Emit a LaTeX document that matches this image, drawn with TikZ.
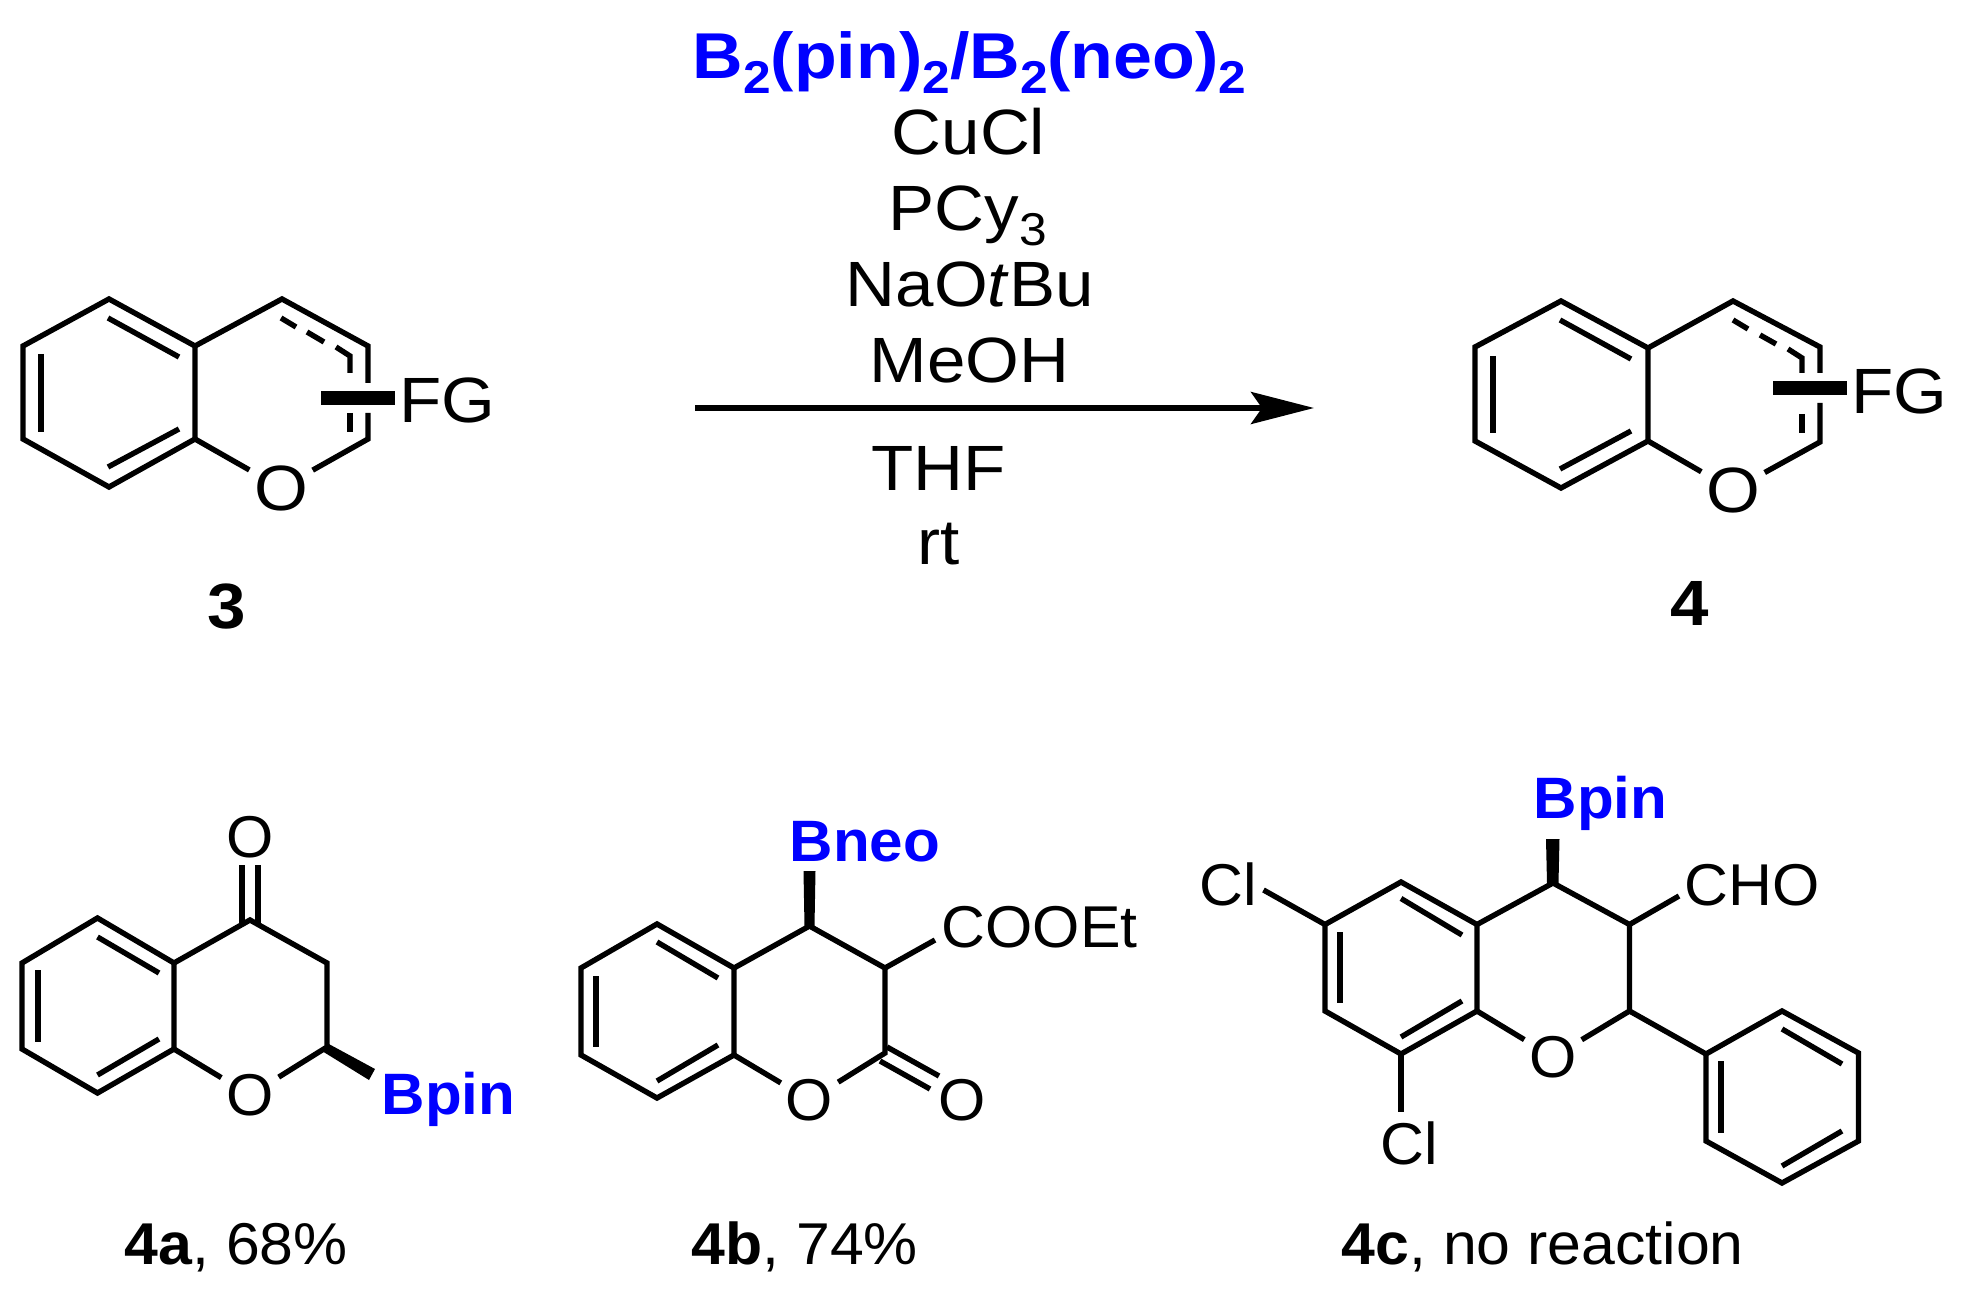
\documentclass[tikz,border=0pt]{standalone}
\usepackage{fontspec}
\setmainfont{Liberation Sans}
\newfontfamily\topfam[FakeStretch=1.08]{Liberation Sans}
\newfontfamily\lowfam[FakeStretch=1.03]{Liberation Sans}
\usetikzlibrary{arrows.meta,positioning}
\newcommand{\subs}[1]{\raisebox{-7.5pt}{\fontsize{23}{23}\selectfont #1}}

\begin{document}
\begin{tikzpicture}[x=0.5pt, y=-0.5pt, line width=2.7pt]
    \tikzstyle{toptext} = [inner sep=0pt, anchor=base west, font=\topfam\fontsize{32}{34}\selectfont]
    \tikzstyle{lowtext} = [inner sep=0pt, anchor=base west, font=\lowfam\fontsize{29.5}{32}\selectfont]
    \tikzstyle{topatom} = [inner sep=0pt, minimum width=29pt, minimum height=24pt, font=\topfam\fontsize{32}{34}\selectfont]
    \tikzstyle{lowatom} = [inner sep=0pt, minimum width=26pt, minimum height=24pt, font=\lowfam\fontsize{29.5}{32}\selectfont]
    \tikzstyle{boron} = [text=blue, font=\lowfam\bfseries\fontsize{29.2}{32}\selectfont]
    \tikzstyle{arrow} = [-{Stealth[length=31.5pt, width=16pt, inset=5.5pt]}]
    \useasboundingbox (0,0) rectangle (1966,1294);

    % reagents
    \node [toptext, text=blue, font=\topfam\bfseries\fontsize{32.4}{34}\selectfont] (boryl) at (690,79) {B\subs{2}(pin)\subs{2}/B\subs{2}(neo)\subs{2}};
    \node [toptext] (cucl) at (889,155) {CuCl};
    \node [toptext] (pcy) at (886,231) {PCy\subs{3}};
    \node [toptext] (naot) at (843,307) {NaO\textit{t}Bu};
    \node [toptext] (meoh) at (867,383) {MeOH};
    \node [toptext] (thf) at (869,491) {THF};
    \node [toptext] (rt) at (915,565) {rt};
    \coordinate (rxnstart) at (695,408);
    \coordinate (rxnend) at (1314,408);
    \draw [arrow] (rxnstart) -- (rxnend);

    % substrate 3
    \coordinate (s1) at (109,299);
    \coordinate (s2) at (195,346);
    \coordinate (s3) at (195,439);
    \coordinate (s4) at (109,487);
    \coordinate (s5) at (23,439);
    \coordinate (s6) at (23,346);
    \coordinate (s7) at (282,299);
    \coordinate (s8) at (368,346);
    \coordinate (s9) at (368,383);
    \coordinate (s10) at (368,413);
    \coordinate (s11) at (368,439);
    \node [topatom] (so) at (281,488) {O};
    \draw (s1) -- (s2) -- (s3) -- (s4) -- (s5) -- (s6) -- cycle;
    \draw (s2) -- (s7) -- (s8) -- (s9);
    \draw (s3) -- (so) -- (s11) -- (s10);
    \draw (108,318) -- (179,357);
    \draw (41,354) -- (41,432);
    \draw (108,467) -- (179,429);
    \draw (281,318) -- (296,327);
    \draw (307,332) -- (324,342);
    \draw (336,347) -- (350,356) -- (350,373);
    \draw (350,413) -- (350,432);
    \fill (321,391) rectangle (395,405);
    \node [toptext] (sfg) at (397,423) {FG};
    \node [toptext, font=\topfam\bfseries\fontsize{32}{34}\selectfont] (slabel) at (205,628) {3};

    % product 4
    \coordinate (p1) at (1561,301);
    \coordinate (p2) at (1648,348);
    \coordinate (p3) at (1648,441);
    \coordinate (p4) at (1561,488);
    \coordinate (p5) at (1475,441);
    \coordinate (p6) at (1475,347);
    \coordinate (p7) at (1733,301);
    \coordinate (p8) at (1820,347);
    \coordinate (p9) at (1820,373);
    \coordinate (p10) at (1820,403);
    \coordinate (p11) at (1820,442);
    \node [topatom] (po) at (1733,490) {O};
    \draw (p1) -- (p2) -- (p3) -- (p4) -- (p5) -- (p6) -- cycle;
    \draw (p2) -- (p7) -- (p8) -- (p9);
    \draw (p3) -- (po) -- (p11) -- (p10);
    \draw (1560,320) -- (1631,359);
    \draw (1493,356) -- (1493,433);
    \draw (1560,469) -- (1631,431);
    \draw (1733,320) -- (1748,329);
    \draw (1760,335) -- (1776,344);
    \draw (1788,349) -- (1802,358) -- (1802,373);
    \draw (1802,414) -- (1802,433);
    \fill (1773,381) rectangle (1847,395);
    \node [toptext] (pfg) at (1849,414) {FG};
    \node [toptext, font=\topfam\bfseries\fontsize{32}{34}\selectfont] (plabel) at (1668,625) {4};

    % 4a
    \coordinate (a1) at (97.5,918);
    \coordinate (a2) at (174,963);
    \coordinate (a3) at (174,1049);
    \coordinate (a4) at (97.5,1093);
    \coordinate (a5) at (22,1049);
    \coordinate (a6) at (22,963);
    \coordinate (a7) at (250,920);
    \coordinate (a8) at (327,963);
    \coordinate (a9) at (327,1047);
    \coordinate (a10) at (375,1069);
    \coordinate (a11) at (369,1080);
    \coordinate (a12) at (242,923);
    \coordinate (a13) at (242,865);
    \coordinate (a14) at (258,923);
    \coordinate (a15) at (258,865);
    \coordinate (a16) at (327,1043);
    \coordinate (a17) at (322,1051);
    \node [lowatom] (ao) at (250,1095) {O};
    \node [lowatom] (aoxo) at (250,837) {O};
    \draw (a1) -- (a2) -- (a3) -- (a4) -- (a5) -- (a6) -- cycle;
    \draw (a2) -- (a7) -- (a8) -- (a9) -- (ao) -- (a3);
    \draw (a12) -- (a13);
    \draw (a14) -- (a15);
    \draw (97.5,937) -- (159,973);
    \draw (38,970) -- (38,1042);
    \draw (97.5,1075) -- (159,1039);
    \fill (a16) -- (a10) -- (a11) -- (a17) -- cycle;
    \node [lowtext, boron] (abpin) at (379,1114) {Bpin};
    \node [lowtext] (alabel) at (122,1264) {\textbf{4a}, 68\%};

    % 4b
    \coordinate (b1) at (657,924);
    \coordinate (b2) at (734,968);
    \coordinate (b3) at (734,1055);
    \coordinate (b4) at (657,1098);
    \coordinate (b5) at (581,1055);
    \coordinate (b6) at (581,968);
    \coordinate (b7) at (809.5,926);
    \coordinate (b8) at (885,968);
    \coordinate (b9) at (885,1053);
    \coordinate (b10) at (803.5,871);
    \coordinate (b11) at (815.5,871);
    \coordinate (b12) at (935,940);
    \coordinate (b13) at (887,1047);
    \coordinate (b14) at (939,1076);
    \coordinate (b15) at (880,1061);
    \coordinate (b16) at (930,1089);
    \coordinate (b17) at (814.5,926);
    \coordinate (b18) at (804.5,926);
    \node [lowatom] (bo) at (809.5,1100) {O};
    \node [lowatom] (boxo) at (962,1100) {O};
    \draw (b1) -- (b2) -- (b3) -- (b4) -- (b5) -- (b6) -- cycle;
    \draw (b2) -- (b7) -- (b8) -- (b9) -- (bo) -- (b3);
    \draw (b8) -- (b12);
    \draw (b13) -- (b14);
    \draw (b15) -- (b16);
    \draw (657,942) -- (718,978);
    \draw (596,976) -- (596,1047);
    \draw (657,1081) -- (718,1045);
    \fill (b10) -- (b11) -- (b17) -- (b18) -- cycle;
    \node [lowtext, boron] (bbneo) at (787,861) {Bneo};
    \node [lowtext] (bcooet) at (939,947) {COOEt};
    \node [lowtext] (blabel) at (689,1264) {\textbf{4b}, 74\%};

    % 4c
    \coordinate (c1) at (1401,882);
    \coordinate (c2) at (1477,924.5);
    \coordinate (c3) at (1477,1011);
    \coordinate (c4) at (1401,1054);
    \coordinate (c5) at (1325,1011);
    \coordinate (c6) at (1325,924.5);
    \coordinate (c7) at (1553,883);
    \coordinate (c8) at (1629.5,924.5);
    \coordinate (c9) at (1629.5,1011);
    \coordinate (c10) at (1546,839);
    \coordinate (c11) at (1559.5,839);
    \coordinate (c12) at (1679,896);
    \coordinate (c13) at (1263.5,890);
    \coordinate (c14) at (1401,1112);
    \coordinate (c15) at (1558.5,883);
    \coordinate (c16) at (1547,883);
    \coordinate (ph1) at (1706,1054);
    \coordinate (ph2) at (1782,1011);
    \coordinate (ph3) at (1858.5,1053);
    \coordinate (ph4) at (1858.5,1141);
    \coordinate (ph5) at (1782,1183);
    \coordinate (ph6) at (1706,1141);
    \node [lowatom] (co) at (1553,1057) {O};
    \draw (c1) -- (c2) -- (c3) -- (c4) -- (c5) -- (c6) -- cycle;
    \draw (c2) -- (c7) -- (c8) -- (c9) -- (co) -- (c3);
    \draw (c8) -- (c12);
    \draw (c6) -- (c13);
    \draw (c4) -- (c14);
    \draw (c9) -- (ph1);
    \draw (ph1) -- (ph2) -- (ph3) -- (ph4) -- (ph5) -- (ph6) -- cycle;
    \draw (1401,898.5) -- (1462,935);
    \draw (1340,932) -- (1340,1003);
    \draw (1401,1037) -- (1462,1001);
    \draw (1782,1029) -- (1842,1064);
    \draw (1721,1061) -- (1721,1133);
    \draw (1782,1166) -- (1842,1131);
    \fill (c10) -- (c11) -- (c15) -- (c16) -- cycle;
    \node [lowtext, boron] (cbpin) at (1531,818) {Bpin};
    \node [lowtext] (ccl) at (1197,905) {Cl};
    \node [lowtext] (ccll) at (1378,1164) {Cl};
    \node [lowtext] (ccho) at (1682,905) {CHO};
    \node [lowtext] (clabel) at (1339,1264) {\textbf{4c}, no reaction};
\end{tikzpicture}
\end{document}
